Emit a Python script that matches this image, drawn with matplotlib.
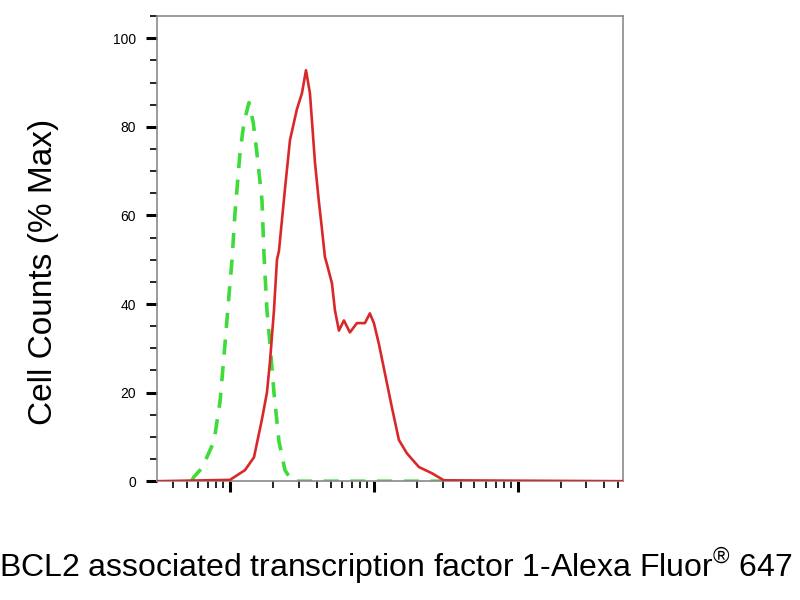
import numpy as np
import matplotlib
matplotlib.use("Agg")
import matplotlib.pyplot as plt
from matplotlib.ticker import LogLocator, MultipleLocator, NullFormatter

plt.rcParams["font.family"] = ["Liberation Sans", "DejaVu Sans"]
plt.rcParams["mathtext.fontset"] = "custom"
plt.rcParams["mathtext.rm"] = "Liberation Sans"

# isotype control (green dashed)
controle_x = [540, 562, 640, 774, 853, 923, 984, 1033, 1083, 1173, 1250, 1355, 1450,
              1540, 1668, 1721, 1806, 1896, 2021, 2189, 2410, 2698, 3000, 30000]
controle_y = [0, 1, 3, 9, 18, 31, 42, 50, 60.5, 74, 81, 85.5, 81,
              74, 63.4, 51.5, 38.6, 31, 20, 9, 2.5, 0, 0, 0]

# BCL2 associated transcription factor 1 (red)
echantillon_x = [311, 1000, 1271, 1468, 1668, 1806, 1896, 2021, 2120, 2189, 2410, 2610,
                 2918, 3162, 3373, 3594, 3894, 4150, 4353, 4568, 4718, 5110, 5360, 5714,
                 6190, 6813, 7621, 8660, 9375, 10000, 10830, 11920, 13330, 14920, 16950,
                 20540, 25290, 30620, 544500]
echantillon_y = [0, 0.3, 2.5, 5.4, 14, 20, 27, 38.6, 50, 52, 66, 77,
                 84, 87.6, 92.8, 87.6, 72, 63, 57, 50.6, 49, 44.7, 38.6, 34,
                 36.3, 33.6, 35.7, 35.7, 37.9, 35.7, 31, 24.4, 16.7, 9.3, 6.3,
                 3.2, 1.8, 0.2, 0]

y_ticks = [0, 20, 40, 60, 80, 100]

fig = plt.figure(figsize=(8, 6), dpi=100)
ax = fig.add_axes([0.196, 0.198, 0.583, 0.775])

ax.plot(echantillon_x, echantillon_y, color="#d9282a", linewidth=1.9, zorder=3)
ax.plot(controle_x, controle_y, color="#3ddc3a", linewidth=2.6,
        linestyle=(0, (4.2, 3.2)), zorder=2)

ax.set_xscale("log")
ax.set_xlim(310, 5.4e5)
ax.set_ylim(0, 105)

ax.xaxis.set_major_locator(LogLocator(base=10, numticks=10))
ax.xaxis.set_minor_locator(LogLocator(base=10, subs=np.arange(2, 10), numticks=20))
ax.xaxis.set_major_formatter(NullFormatter())
ax.xaxis.set_minor_formatter(NullFormatter())

ax.set_yticks(y_ticks)
ax.yaxis.set_minor_locator(MultipleLocator(5))

ax.tick_params(axis="both", which="major", direction="out", length=8, width=2.2,
               color="black", labelsize=10, pad=7)
ax.tick_params(axis="both", which="minor", direction="out", length=5, width=1.2,
               color="black")

for s in ax.spines.values():
    s.set_color("#8a8a8a")
    s.set_linewidth(1.2)

fig.text(0.054, 0.5475, "Cell Counts (% Max)", fontsize=24, rotation=90,
         ha="center", va="center")
fig.text(0.495, 0.057, "BCL2 associated transcription factor 1-Alexa Fluor$^{\u00ae}$ 647",
         fontsize=23, ha="center", va="center")

fig.savefig("out.png", dpi=100)
